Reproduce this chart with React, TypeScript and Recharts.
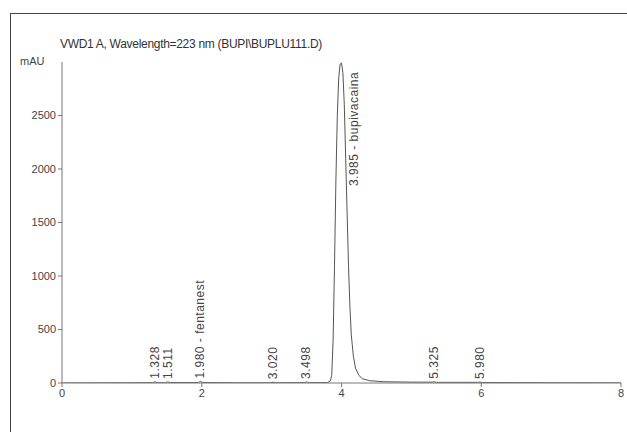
import React from 'react'
import { ComposedChart, Line, Scatter, XAxis, YAxis } from 'recharts'

// retention time (min) and absorbance (mAU)
const times = [0, 0.5, 1.0, 1.3, 1.328, 1.36, 1.48, 1.511, 1.55, 1.95, 1.98, 2.02, 2.5, 2.99, 3.02, 3.05, 3.47, 3.498, 3.53, 3.8, 3.84, 3.86, 3.88, 3.9, 3.92, 3.94, 3.96, 3.98, 4.0, 4.02, 4.04, 4.06, 4.08, 4.1, 4.12, 4.14, 4.17, 4.2, 4.25, 4.3, 4.4, 4.6, 5.0, 5.3, 5.325, 5.36, 5.95, 5.98, 6.02, 7.0, 8.0]
const signal = [0, 1, 2, 3, 12, 3, 3, 10, 4, 4, 14, 4, 2, 2, 8, 2, 3, 10, 3, 4, 20, 70, 400, 1100, 1900, 2500, 2850, 2980, 2990, 2900, 2600, 2100, 1600, 1100, 720, 450, 250, 140, 70, 40, 22, 12, 8, 8, 12, 6, 6, 9, 4, 2, 1]

const peakTimes = ['1.328', '1.511', '1.980', '3.020', '3.498', '3.985', '5.325', '5.980']
const peakNames = ['', '', 'fentanest', '', '', 'bupivacaina', '', '']
const peakHeights = [12, 10, 14, 8, 10, 2990, 12, 9]

const yTicks = [0, 500, 1000, 1500, 2000, 2500]
const xTicks = [0, 2, 4, 6, 8]

const trace = times.map((t, i) => ({ t, v: signal[i] }))
const peaks = peakTimes.map((p, i) => ({
  t: Number(p),
  v: peakHeights[i],
  label: peakNames[i] ? `${p} - ${peakNames[i]}` : p,
}))

const FONT = '"Liberation Sans", Arial, sans-serif'

const PeakLabel = (props: any) => {
  const { cx, cy, payload } = props
  if (cx == null || cy == null) return null
  const big = payload.v > 1000
  const x = big ? cx + 14 : cx
  const y = big ? cy + 123 : cy - 3
  return (
    <text
      x={x}
      y={y}
      transform={`rotate(-90, ${x}, ${y})`}
      textAnchor="start"
      dominantBaseline="central"
      fontSize={12}
      letterSpacing={0.5}
      fontFamily={FONT}
      fill="#444"
    >
      {payload.label}
    </text>
  )
}

export default function App() {
  return (
    <div style={{ position: 'absolute', left: 0, top: 0, width: 627, height: 432, background: '#fff', fontFamily: FONT }}>
      <div style={{ position: 'absolute', left: 10, top: 13, right: 0, bottom: 0, borderTop: '1.5px solid #444', borderLeft: '1.5px solid #444' }} />
      <div style={{ position: 'absolute', left: 60, top: 37, fontSize: 12, color: '#333', letterSpacing: -0.3 }}>
        VWD1 A, Wavelength=223 nm (BUPI\BUPLU111.D)
      </div>
      <div style={{ position: 'absolute', left: 20, top: 55, fontSize: 11, color: '#444' }}>mAU</div>
      <ComposedChart
        width={627}
        height={432}
        data={trace}
        margin={{ top: 62, right: 6, left: 22, bottom: 19 }}
        style={{ position: 'absolute', left: 0, top: 0 }}
      >
        <XAxis
          dataKey="t"
          type="number"
          domain={[0, 8]}
          ticks={xTicks}
          allowDataOverflow
          height={30}
          stroke="#777"
          tickSize={4}
          tick={{ fontSize: 11, fill: '#444', fontFamily: FONT }}
        />
        <YAxis
          type="number"
          domain={[0, 3000]}
          ticks={yTicks}
          allowDataOverflow
          width={40}
          stroke="#777"
          tickSize={4}
          tick={{ fontSize: 11, fill: '#444', fontFamily: FONT }}
        />
        <Line
          type="linear"
          dataKey="v"
          stroke="#555"
          strokeWidth={1}
          dot={false}
          isAnimationActive={false}
        />
        <Scatter
          data={peaks}
          dataKey="v"
          shape={PeakLabel}
          isAnimationActive={false}
        />
      </ComposedChart>
    </div>
  )
}
